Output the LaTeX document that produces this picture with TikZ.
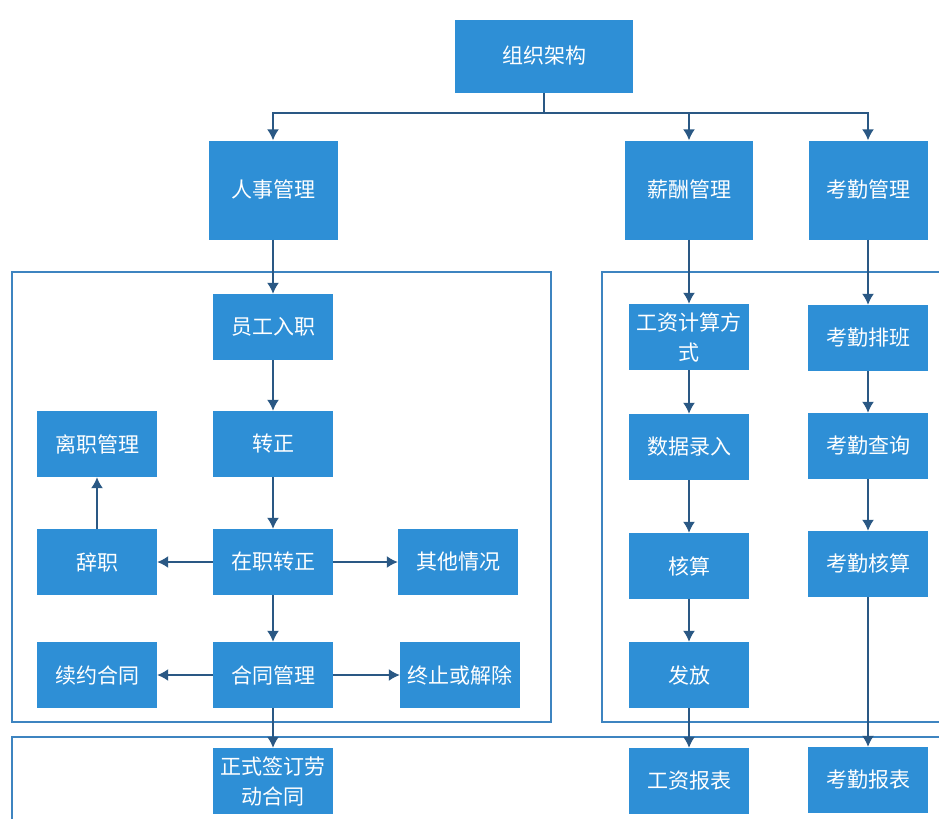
\documentclass[tikz,border=0pt]{standalone}
\usepackage{fontspec}
\newfontfamily\cjk{Noto Sans CJK SC}
\usetikzlibrary{arrows.meta}

\definecolor{boxblue}{RGB}{46,143,214}
\definecolor{linkblue}{RGB}{42,88,132}
\definecolor{frameblue}{RGB}{62,132,192}

\tikzset{
  box/.style={fill=boxblue, text=white, inner sep=0pt, align=center,
    font=\cjk\fontsize{21}{30}\selectfont, minimum width=120pt, minimum height=66pt},
  topbox/.style={box, minimum height=99pt},
  link/.style={draw=linkblue, line width=1.6pt, >={Latex[length=11pt,width=12pt]}},
  frame/.style={draw=frameblue, line width=1.3pt}
}

\begin{document}
\begin{tikzpicture}[x=1pt, y=-1pt]
      
      \path[use as bounding box, fill=white] (0,0) rectangle (939,819);

      % frames
      \draw[frame] (12,272) rectangle (551,722);
      \draw[frame] (939,272) -- (602,272) -- (602,722) -- (939,722);
      \draw[frame] (939,737) -- (12,737) -- (12,819);

      % top level
	\node[box, minimum width=178pt, minimum height=73pt] (org) at (544,56) {组织架构};
	\node[topbox, minimum width=129pt] (hr) at (273,190) {人事管理};
	\node[topbox, minimum width=128pt] (pay) at (689,190) {薪酬管理};
	\node[topbox, minimum width=119pt] (att) at (868,190) {考勤管理};
	\coordinate (bus) at (544,113);

	% personnel
	\node[box] (entry) at (273,327) {员工入职};
	\node[box] (regular) at (273,444) {转正};
	\node[box] (leave) at (97,444) {离职管理};
	\node[box] (resign) at (97,562) {辞职};
	\node[box] (onjob) at (273,562) {在职转正};
	\node[box] (other) at (458,562) {其他情况};
	\node[box] (renew) at (97,675) {续约合同};
	\node[box] (contract) at (273,675) {合同管理};
	\node[box] (stop) at (460,675) {终止或解除};
	\node[box] (sign) at (273,781) {正式签订劳\\动合同};

	% salary
	\node[box] (calc) at (689,337) {工资计算方\\式};
	\node[box] (input) at (689,447) {数据录入};
	\node[box] (check) at (689,566) {核算};
	\node[box] (issue) at (689,675) {发放};
	\node[box] (payrep) at (689,781) {工资报表};

	% attendance
	\node[box] (shift) at (868,338) {考勤排班};
	\node[box] (query) at (868,446) {考勤查询};
	\node[box] (attcheck) at (868,564) {考勤核算};
	\node[box] (attrep) at (868,780) {考勤报表};

	\draw[link] (org) -- (bus);
	\foreach \n in {hr,pay,att}{
	   \draw[link,->] (bus) -| (\n);
	}

	\draw[link,->] (hr) -- (entry);
	\draw[link,->] (entry) -- (regular);
	\draw[link,->] (regular) -- (onjob);
	\draw[link,->] (onjob) -- (resign);
	\draw[link,->] (onjob) -- (other);
	\draw[link,->] (resign) -- (leave);
	\draw[link,->] (onjob) -- (contract);
	\draw[link,->] (contract) -- (renew);
	\draw[link,->] (contract) -- (stop);
	\draw[link,->] (contract) -- (sign);

	\draw[link,->] (pay) -- (calc);
	\draw[link,->] (calc) -- (input);
	\draw[link,->] (input) -- (check);
	\draw[link,->] (check) -- (issue);
	\draw[link,->] (issue) -- (payrep);

	\draw[link,->] (att) -- (shift);
	\draw[link,->] (shift) -- (query);
	\draw[link,->] (query) -- (attcheck);
	\draw[link,->] (attcheck) -- (attrep);
    \end{tikzpicture}
\end{document}
